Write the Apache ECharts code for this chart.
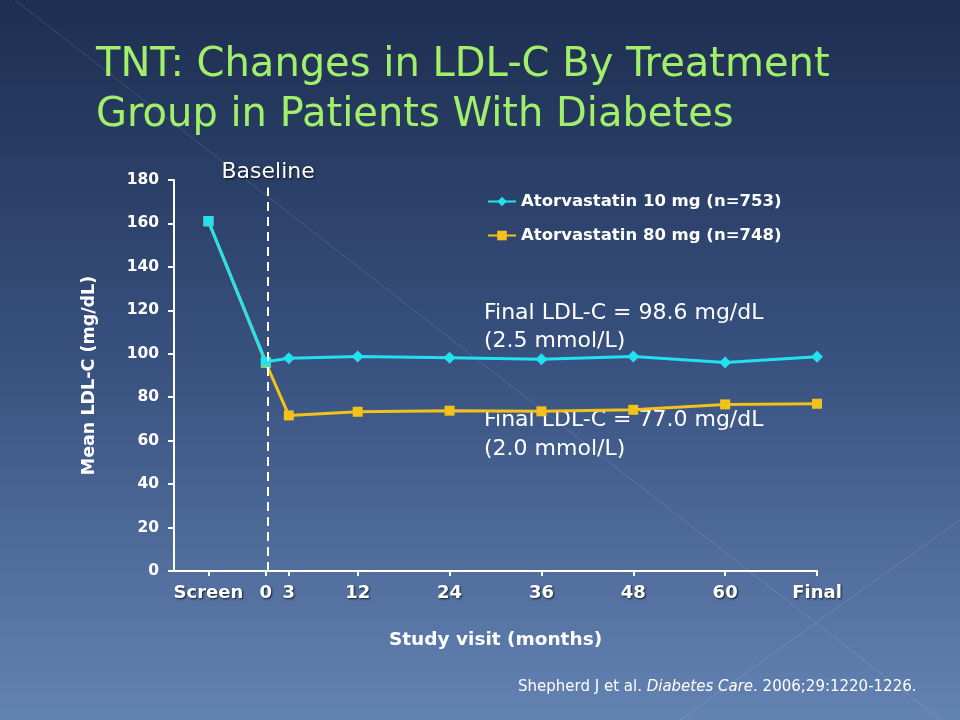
<!DOCTYPE html>
<html>
<head>
<meta charset="utf-8">
<script src="https://cdn.jsdelivr.net/npm/echarts@6/dist/echarts.min.js"></script>
<style>html,body{margin:0;padding:0;}#c{width:960px;height:720px;}</style>
</head>
<body>
<div id="c"></div>
<script>
const categories = ['Screen', '0', '3', '12', '24', '36', '48', '60', 'Final'];
const visitMonths = [-7.5, 0, 3, 12, 24, 36, 48, 60, 72];
const atorva10 = [161, 96.3, 97.9, 98.8, 98.2, 97.5, 98.7, 96.0, 98.6];
const atorva80 = [161, 95.8, 71.6, 73.3, 73.8, 73.5, 74.2, 76.7, 77.0];
const seriesNames = ['Atorvastatin 10 mg (n=753)', 'Atorvastatin 80 mg (n=748)'];
const baselineMonth = 0.3;
const annotations = ['Final LDL-C = 98.6 mg/dL', '(2.5 mmol/L)', 'Final LDL-C = 77.0 mg/dL', '(2.0 mmol/L)'];
const titleLines = ['TNT: Changes in LDL-C By Treatment', 'Group in Patients With Diabetes'];

const CYAN = '#22e2ef', GOLD = '#f2c21b';

const chart = echarts.init(document.getElementById('c'), null, {renderer: 'canvas'});

const d10 = visitMonths.map((m, i) => ({value: [m, atorva10[i]], symbol: i < 2 ? 'rect' : 'diamond', symbolSize: i < 2 ? 10 : 12}));
const d80 = visitMonths.map((m, i) => [m, atorva80[i]]);

const annoGraphics = annotations.map((t, i) => ({
  type: 'text', left: 484, top: [302, 330, 409, 438][i], silent: true,
  style: {text: t, fill: '#ffffff', font: '22px "DejaVu Sans"', shadowColor: 'rgba(0,0,0,0.7)', shadowBlur: 2, shadowOffsetX: 1, shadowOffsetY: 1}
}));

chart.setOption({
  animation: false,
  backgroundColor: {type: 'linear', x: 0, y: 0, x2: 0, y2: 1,
    colorStops: [{offset: 0, color: '#1d2e50'}, {offset: 0.5, color: '#38517f'}, {offset: 1, color: '#6383b3'}]},
  title: {
    text: titleLines.join('\n'), left: 91, top: 36,
    textStyle: {color: '#a2f06a', fontFamily: 'DejaVu Sans', fontSize: 40, fontWeight: 'normal', lineHeight: 50}
  },
  graphic: [
    {type: 'line', silent: true, z: -1, shape: {x1: 15, y1: 0, x2: 960, y2: 735}, style: {stroke: 'rgba(255,255,255,0.13)', lineWidth: 1}},
    {type: 'line', silent: true, z: -1, shape: {x1: 680, y1: 720, x2: 960, y2: 520}, style: {stroke: 'rgba(255,255,255,0.13)', lineWidth: 1}},
    {type: 'text', left: 518, top: 680, silent: true,
      style: {text: '{n|Shepherd J et al. }{i|Diabetes Care}{n|. 2006;29:1220-1226.}',
        rich: {n: {fill: '#ffffff', font: '15px "DejaVu Sans"'}, i: {fill: '#ffffff', font: 'italic 15px "DejaVu Sans"'}},
        shadowColor: 'rgba(0,0,0,0.7)', shadowBlur: 2, shadowOffsetX: 1, shadowOffsetY: 1}}
  ].concat(annoGraphics),
  legend: {
    orient: 'vertical', left: 482, top: 188, itemGap: 17, itemWidth: 28, itemHeight: 12,
    data: seriesNames,
    textStyle: {color: '#ffffff', fontFamily: 'DejaVu Sans', fontWeight: 'bold', fontSize: 16.5}
  },
  grid: {left: 174, right: 143, top: 180, bottom: 149, containLabel: false},
  xAxis: {
    type: 'value', min: -12, max: 72,
    name: 'Study visit (months)', nameLocation: 'middle', nameGap: 60,
    nameTextStyle: {color: '#ffffff', fontFamily: 'DejaVu Sans', fontWeight: 'bold', fontSize: 18.5},
    axisLine: {show: true, onZero: false, lineStyle: {color: '#ffffff', width: 2}},
    axisTick: {show: true, customValues: visitMonths, length: 5, lineStyle: {color: '#ffffff', width: 2}},
    axisLabel: {customValues: visitMonths, margin: 13, color: '#ffffff', fontFamily: 'DejaVu Sans', fontWeight: 'bold', fontSize: 18,
      formatter: v => { const k = visitMonths.indexOf(v); return k >= 0 ? categories[k] : ''; },
      textShadowColor: 'rgba(0,0,0,0.75)', textShadowBlur: 2, textShadowOffsetX: 1, textShadowOffsetY: 1},
    splitLine: {show: false}
  },
  yAxis: {
    type: 'value', min: 0, max: 180, interval: 20,
    name: 'Mean LDL-C (mg/dL)', nameLocation: 'middle', nameGap: 76, nameRotate: 90,
    nameTextStyle: {color: '#ffffff', fontFamily: 'DejaVu Sans', fontWeight: 'bold', fontSize: 17.5},
    axisLine: {show: true, onZero: false, lineStyle: {color: '#ffffff', width: 2}},
    axisTick: {show: true, length: 6, lineStyle: {color: '#ffffff', width: 2}},
    axisLabel: {margin: 15, color: '#ffffff', fontFamily: 'DejaVu Sans', fontWeight: 'bold', fontSize: 15.5},
    splitLine: {show: false}
  },
  series: [
    {
      name: seriesNames[1], type: 'line', data: d80, symbol: 'rect', symbolSize: 10, z: 2,
      lineStyle: {color: GOLD, width: 3}, itemStyle: {color: GOLD},
      markLine: {
        silent: true, symbol: 'none',
        lineStyle: {color: '#ffffff', type: [9, 6], width: 2},
        label: {show: true, position: 'end', distance: 4, formatter: 'Baseline', color: '#ffffff', fontFamily: 'DejaVu Sans', fontSize: 22,
          textShadowColor: 'rgba(0,0,0,0.75)', textShadowBlur: 2, textShadowOffsetX: 1, textShadowOffsetY: 1},
        data: [[{coord: [baselineMonth, 0]}, {coord: [baselineMonth, 176.5]}]]
      }
    },
    {
      name: seriesNames[0], type: 'line', data: d10, symbol: 'diamond', symbolSize: 12, z: 3,
      lineStyle: {color: CYAN, width: 3}, itemStyle: {color: CYAN}
    }
  ]
});
</script>
</body>
</html>
